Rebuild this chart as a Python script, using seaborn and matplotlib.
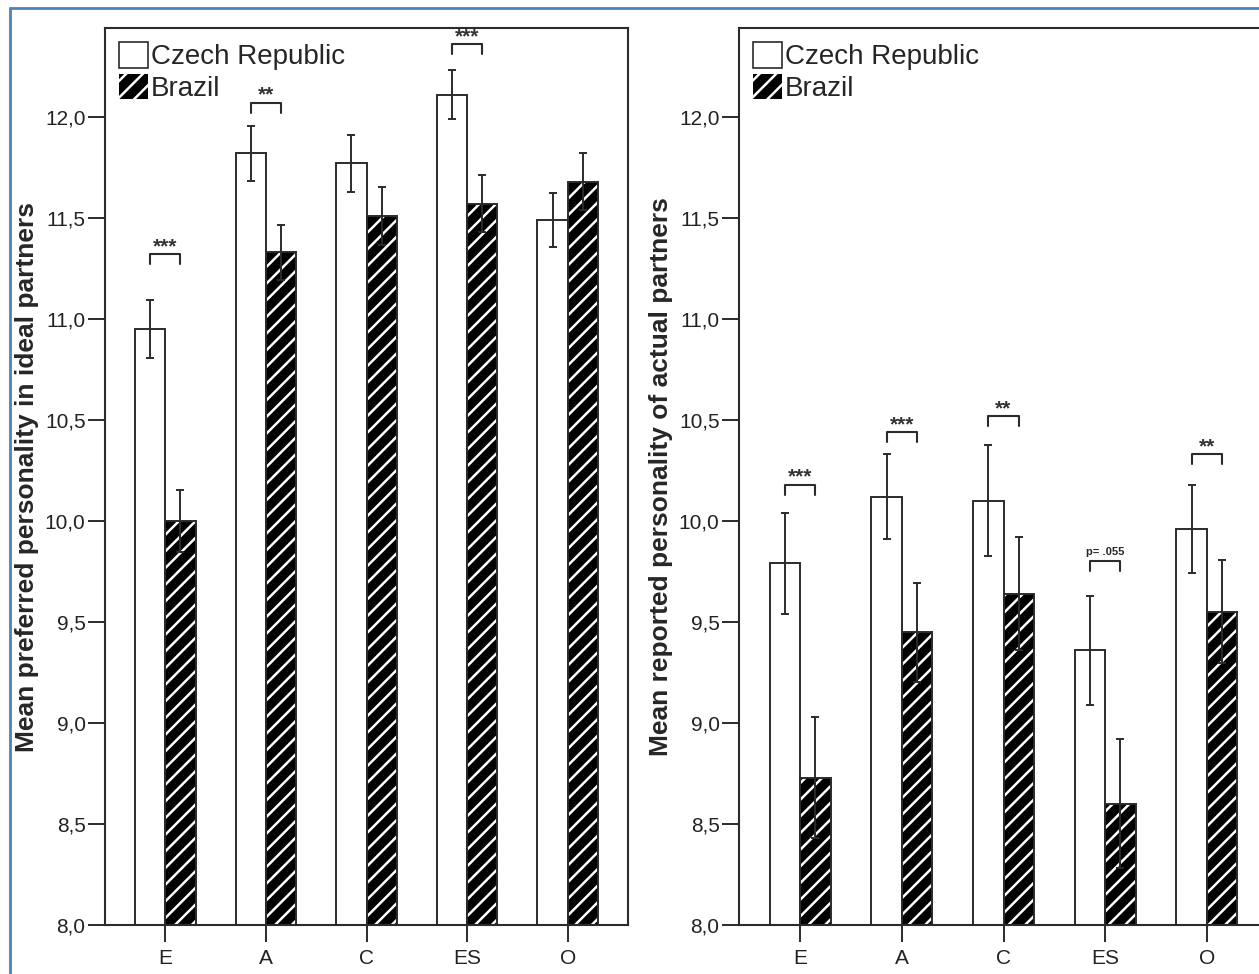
import numpy as np
import pandas as pd
import matplotlib
matplotlib.use("Agg")
import matplotlib.pyplot as plt
import seaborn as sns
from matplotlib.lines import Line2D
from matplotlib.patches import Patch, Rectangle

# Big Five traits, two samples
traits = ["E", "A", "C", "ES", "O"]
countries = ["Czech Republic", "Brazil"]

# preferred personality in ideal partners (means and error half-widths)
ideal_cz = [10.95, 11.82, 11.77, 12.11, 11.49]
ideal_br = [10.00, 11.33, 11.51, 11.57, 11.68]
ideal_cz_err = [0.145, 0.135, 0.14, 0.12, 0.135]
ideal_br_err = [0.155, 0.135, 0.145, 0.14, 0.14]

# reported personality of actual partners
actual_cz = [9.79, 10.12, 10.10, 9.36, 9.96]
actual_br = [8.73, 9.45, 9.64, 8.60, 9.55]
actual_cz_err = [0.25, 0.21, 0.275, 0.27, 0.22]
actual_br_err = [0.30, 0.245, 0.28, 0.32, 0.255]

# significance markers: trait, label, bracket height
ideal_sig = [("E", "***", 11.32), ("A", "**", 12.07), ("ES", "***", 12.36)]
actual_sig = [("E", "***", 10.18), ("A", "***", 10.44), ("C", "**", 10.52),
              ("ES", "p= .055", 9.80), ("O", "**", 10.33)]

sns.set_style("ticks")
plt.rcParams["font.family"] = ["Liberation Sans", "DejaVu Sans"]
plt.rcParams["hatch.linewidth"] = 1.8
plt.rcParams["hatch.color"] = "white"

DARK = "#2b2b2b"


def draw_panel(ax, cz, br, cz_err, br_err, sig, ylabel):
    df = pd.DataFrame({
        "trait": traits * 2,
        "country": [countries[0]] * len(traits) + [countries[1]] * len(traits),
        "mean": cz + br,
    })
    sns.barplot(data=df, x="trait", y="mean", hue="country", order=traits,
                hue_order=countries, width=0.6, gap=0, errorbar=None,
                ax=ax, legend=False)

    cz_bars, br_bars = ax.containers[0], ax.containers[1]
    for b in cz_bars:
        b.set_facecolor("white")
        b.set_edgecolor(DARK)
        b.set_linewidth(1.4)
    for b in br_bars:
        b.set_facecolor("black")
        b.set_edgecolor("white")
        b.set_hatch("//")
        b.set_linewidth(0)
        ax.add_patch(Rectangle(b.get_xy(), b.get_width(), b.get_height(),
                               fill=False, ec=DARK, lw=1.4, zorder=b.get_zorder() + 0.1))

    cz_x = [b.get_x() + b.get_width() / 2 for b in cz_bars]
    br_x = [b.get_x() + b.get_width() / 2 for b in br_bars]
    ax.errorbar(cz_x, cz, yerr=cz_err, fmt="none", ecolor=DARK,
                elinewidth=1.4, capsize=3, capthick=1.4, zorder=5)
    ax.errorbar(br_x, br, yerr=br_err, fmt="none", ecolor=DARK,
                elinewidth=1.4, capsize=3, capthick=1.4, zorder=5)

    for trait, label, y in sig:
        i = traits.index(trait)
        x0, x1 = cz_x[i], br_x[i]
        ax.plot([x0, x0, x1, x1], [y - 0.05, y, y, y - 0.05], color=DARK, lw=1.5)
        if label.startswith("p"):
            ax.text((x0 + x1) / 2, y + 0.02, label, ha="center", va="bottom",
                    fontsize=8, fontweight="bold")
        else:
            ax.text((x0 + x1) / 2, y - 0.01, label, ha="center", va="bottom",
                    fontsize=15, fontweight="bold", color="#333")

    ax.set_xlim(-0.6, 4.6)
    ax.set_ylim(8.0, 12.44)
    yt = np.arange(8.0, 12.01, 0.5)
    ax.set_yticks(yt)
    ax.set_yticklabels([f"{v:.1f}".replace(".", ",") for v in yt])
    ax.tick_params(axis="both", direction="out", length=12, width=1.4,
                   color=DARK, labelsize=15, labelcolor="#222")
    ax.tick_params(axis="y", pad=2)
    ax.tick_params(axis="x", pad=5)
    ax.set_xlabel("")
    ax.set_ylabel(ylabel, fontsize=19, fontweight="bold", labelpad=4)
    for s in ax.spines.values():
        s.set_visible(True)
        s.set_color(DARK)
        s.set_linewidth(1.5)

    handles = [Patch(fc="white", ec=DARK, lw=1.2),
               Patch(fc="black", ec="white", hatch="//", lw=0)]
    ax.legend(handles, countries, loc="upper left", frameon=False, fontsize=20,
              handlelength=1.05, handleheight=1.05, handletextpad=0.1,
              labelspacing=0.12, borderaxespad=0.2, borderpad=0.3)


fig = plt.figure(figsize=(12.59, 9.74), dpi=100)
ax1 = fig.add_axes([105 / 1259, 49 / 974, 523 / 1259, 897 / 974])
ax2 = fig.add_axes([739 / 1259, 49 / 974, 529 / 1259, 897 / 974])

draw_panel(ax1, ideal_cz, ideal_br, ideal_cz_err, ideal_br_err, ideal_sig,
           "Mean preferred personality in ideal partners")
draw_panel(ax2, actual_cz, actual_br, actual_cz_err, actual_br_err, actual_sig,
           "Mean reported personality of actual partners")

# screenshot frame (top and left edges)
frame_col = "#4f81bd"
fig.add_artist(Line2D([10 / 1259, 1], [1 - 8 / 974, 1 - 8 / 974],
                      transform=fig.transFigure, color=frame_col, lw=2))
fig.add_artist(Line2D([10 / 1259, 10 / 1259], [0, 1 - 8 / 974],
                      transform=fig.transFigure, color=frame_col, lw=2))

fig.savefig("out.png", dpi=100)
